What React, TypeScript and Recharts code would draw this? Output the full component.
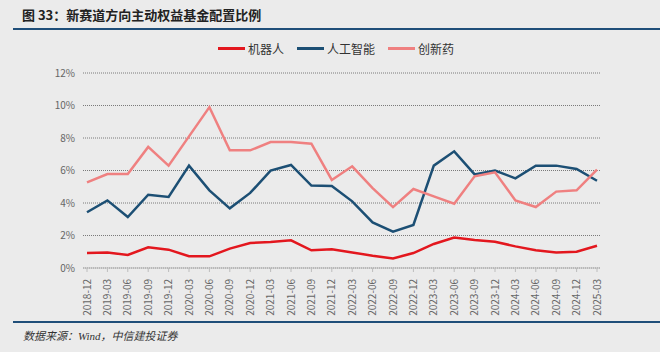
import React from 'react';
import { LineChart, Line, XAxis, YAxis, CartesianGrid } from 'recharts';

const quarters = [
  '2018-12', '2019-03', '2019-06', '2019-09', '2019-12', '2020-03', '2020-06', '2020-09', '2020-12',
  '2021-03', '2021-06', '2021-09', '2021-12', '2022-03', '2022-06', '2022-09', '2022-12',
  '2023-03', '2023-06', '2023-09', '2023-12', '2024-03', '2024-06', '2024-09', '2024-12', '2025-03',
];

// 机器人
const robot = [
  0.92, 0.96, 0.8, 1.27, 1.13, 0.72, 0.72, 1.19, 1.54, 1.6, 1.7, 1.09, 1.15,
  0.96, 0.76, 0.59, 0.92, 1.48, 1.87, 1.72, 1.62, 1.33, 1.09, 0.96, 1.0, 1.37,
];
// 人工智能
const ai = [
  3.43, 4.16, 3.14, 4.51, 4.37, 6.3, 4.78, 3.67, 4.62, 5.99, 6.34, 5.07, 5.05,
  4.1, 2.81, 2.24, 2.65, 6.3, 7.18, 5.76, 5.99, 5.52, 6.3, 6.3, 6.09, 5.37,
];
// 创新药
const pharma = [
  5.27, 5.78, 5.78, 7.45, 6.3, 8.1, 9.9, 7.24, 7.24, 7.75, 7.75, 7.65, 5.42,
  6.26, 4.92, 3.75, 4.86, 4.41, 3.96, 5.64, 5.89, 4.16, 3.75, 4.7, 4.78, 6.05,
];

const yTicks = [0, 2, 4, 6, 8, 10, 12];

const series = [
  { key: 'robot', name: '机器人', color: '#e3171e' },
  { key: 'ai', name: '人工智能', color: '#1c4f74' },
  { key: 'pharma', name: '创新药', color: '#ef8080' },
];

const data = quarters.map((q, i) => ({ q, robot: robot[i], ai: ai[i], pharma: pharma[i] }));

const font = '"Noto Sans CJK SC", "Noto Sans", sans-serif';

function XTick({ x, y, payload }: any) {
  return (
    <text
      x={0}
      y={0}
      transform={`translate(${x},${y + 5}) rotate(-90)`}
      textAnchor="end"
      dy="0.35em"
      fontSize={10}
      fill="#666"
      fontFamily={font}
    >
      {payload.value}
    </text>
  );
}

export default function App() {
  return (
    <div style={{ position: 'absolute', left: 0, top: 0, width: 660, height: 352, background: '#ebebeb', fontFamily: font, overflow: 'hidden' }}>
      <div style={{ position: 'absolute', left: 22, top: 5, fontSize: 13, fontWeight: 'bold', color: '#222' }}>
        图 33：新赛道方向主动权益基金配置比例
      </div>
      <div style={{ position: 'absolute', left: 13, right: 0, top: 28, height: 2, background: '#1f4e79' }} />
      <div style={{ position: 'absolute', left: 0, top: 0 }}>
        <LineChart width={660} height={352} data={data} margin={{ top: 73, right: 60, bottom: 34, left: 33 }}>
          <CartesianGrid vertical={false} stroke="#7a7a7a" strokeDasharray="1 1" />
          <XAxis
            dataKey="q"
            interval={0}
            height={50}
            padding={{ left: 4, right: 3 }}
            tick={<XTick />}
            stroke="#bdbdbd"
            tickSize={4}
          />
          <YAxis
            width={50}
            domain={[0, 12]}
            ticks={yTicks}
            tickFormatter={(v: number) => `${v}%`}
            axisLine={false}
            tickLine={false}
            tick={{ fontSize: 10, fill: '#666', fontFamily: font }}
          />
          {series.map((s) => (
            <Line
              key={s.key}
              type="linear"
              dataKey={s.key}
              name={s.name}
              stroke={s.color}
              strokeWidth={2.5}
              dot={false}
              isAnimationActive={false}
            />
          ))}
        </LineChart>
      </div>
      <div style={{ position: 'absolute', left: 0, top: 40, width: 660, display: 'flex', justifyContent: 'center', gap: 13, fontSize: 12, color: '#333', paddingLeft: 12, boxSizing: 'border-box' }}>
        {series.map((s) => (
          <div key={s.key} style={{ display: 'flex', alignItems: 'center' }}>
            <span style={{ width: 27, height: 3, background: s.color, marginRight: 3 }} />
            <span>{s.name}</span>
          </div>
        ))}
      </div>
      <div style={{ position: 'absolute', left: 13, right: 0, top: 321, height: 2, background: '#1f4e79' }} />
      <div style={{ position: 'absolute', left: 23, top: 327, fontSize: 11, fontStyle: 'italic', color: '#333', fontFamily: '"Liberation Serif", "Noto Sans CJK SC", serif' }}>
        数据来源：Wind，中信建投证券
      </div>
    </div>
  );
}
